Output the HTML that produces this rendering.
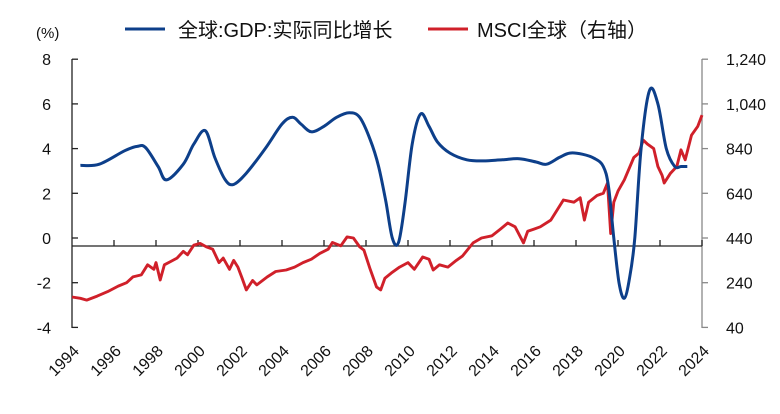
<!DOCTYPE html>
<html><head><meta charset="utf-8"><style>
body{margin:0;background:#fff;width:780px;height:409px;overflow:hidden}
svg text{font-family:"Liberation Sans","Noto Sans CJK SC",sans-serif;fill:#111}
</style></head><body>
<svg id="c" width="780" height="409" xmlns="http://www.w3.org/2000/svg"></svg>
<script>
const gdpYears=[1994.4,1995.3,1996.5,1997.1,1997.5,1998.1,1998.5,1999.3,1999.8,2000.35,2000.8,2001.3,2001.7,2002.3,2003.2,2004.0,2004.5,2004.9,2005.4,2006.0,2006.6,2007.2,2007.7,2008.2,2008.6,2008.95,2009.25,2009.55,2009.85,2010.2,2010.6,2011.0,2011.4,2012.0,2012.8,2013.6,2014.5,2015.3,2016.1,2016.6,2017.2,2017.7,2018.3,2018.9,2019.3,2019.55,2019.8,2020.05,2020.3,2020.55,2020.8,2021.1,2021.5,2021.9,2022.3,2022.7,2023.0,2023.3];
const gdpValues=[3.25,3.3,3.9,4.1,4.05,3.2,2.6,3.3,4.2,4.8,3.6,2.6,2.4,2.9,4.0,5.1,5.4,5.1,4.75,5.0,5.4,5.6,5.4,4.4,3.2,1.6,0.0,-0.2,1.5,4.2,5.55,5.0,4.3,3.8,3.5,3.45,3.5,3.55,3.4,3.3,3.6,3.8,3.75,3.55,3.2,2.3,0.0,-2.0,-2.7,-1.8,0.0,4.0,6.6,6.0,4.0,3.2,3.2,3.2];
const msciYears=[1994.0,1994.4,1994.7,1995.2,1995.7,1996.2,1996.6,1996.9,1997.3,1997.6,1997.9,1998.0,1998.2,1998.4,1998.7,1999.0,1999.3,1999.5,1999.8,2000.1,2000.4,2000.7,2001.0,2001.2,2001.5,2001.7,2001.9,2002.1,2002.3,2002.6,2002.8,2003.3,2003.7,2004.2,2004.6,2005.0,2005.4,2005.8,2006.2,2006.4,2006.8,2007.1,2007.4,2007.7,2007.9,2008.2,2008.5,2008.7,2008.9,2009.2,2009.6,2010.0,2010.3,2010.7,2011.0,2011.2,2011.5,2011.9,2012.3,2012.6,2013.1,2013.5,2014.0,2014.4,2014.75,2015.1,2015.5,2015.7,2016.0,2016.3,2016.8,2017.4,2017.9,2018.2,2018.4,2018.6,2019.0,2019.3,2019.5,2019.65,2019.8,2020.0,2020.3,2020.75,2021.0,2021.2,2021.4,2021.7,2021.9,2022.1,2022.2,2022.5,2022.8,2023.0,2023.2,2023.5,2023.8,2024.0];
const msciValues=[176,170,162,180,200,225,240,266,275,320,300,330,252,320,335,350,380,365,408,416,400,390,330,350,300,340,310,260,208,250,230,266,290,297,310,330,345,371,390,420,405,445,440,400,386,300,221,208,260,283,310,330,300,355,345,297,320,310,340,360,418,440,450,480,507,490,418,470,480,490,520,610,600,620,520,600,630,640,686,460,600,650,700,800,820,878,860,840,760,720,686,730,760,834,790,900,940,990];
const yearTicks=[1994,1996,1998,2000,2002,2004,2006,2008,2010,2012,2014,2016,2018,2020,2022,2024];
const leftTicks=[8,6,4,2,0,-2,-4];
const rightTicks=[1240,1040,840,640,440,240,40];

const svg=document.getElementById('c');const NS='http://www.w3.org/2000/svg';
const X=y=>72+(y-1994)*(630/30);
const YL=v=>238-v*22.35;
const YR=v=>238-(v-440)*(44.7/200);
function mk(t,a,p){const e=document.createElementNS(NS,t);for(const k in a)e.setAttribute(k,a[k]);(p||svg).appendChild(e);return e;}
let e=mk('line',{x1:72,y1:59,x2:72,y2:328,stroke:'#222','stroke-width':1.3});


e=mk('line',{x1:702,y1:59,x2:702,y2:328,stroke:'#888','stroke-width':1.3});


e=mk('line',{x1:72,y1:246,x2:702,y2:246,stroke:'#222','stroke-width':1.3});


leftTicks.forEach(v=>{const y=YL(v);
mk('line',{x1:72,y1:y,x2:78,y2:y,stroke:'#222','stroke-width':1.3});
const t=mk('text',{x:51,y:y+6,'text-anchor':'end','font-size':16});t.textContent=v;

});
rightTicks.forEach(v=>{const y=YR(v);
mk('line',{x1:702,y1:y,x2:708,y2:y,stroke:'#888','stroke-width':1.3});
const t=mk('text',{x:726,y:y+6,'font-size':16});t.textContent=v.toLocaleString('en-US');

});
yearTicks.forEach(yr=>{const x=X(yr);
if(yr>1994)mk('line',{x1:x,y1:240,x2:x,y2:246,stroke:'#222','stroke-width':1.3});
const t=mk('text',{x:x+8,y:352,'text-anchor':'end','font-size':16,transform:`rotate(-45 ${x+8} 352)`});t.textContent=yr;

});
let pts=msciYears.map((y,i)=>X(y).toFixed(1)+','+YR(msciValues[i]).toFixed(1)).join(' ');
e=mk('polyline',{points:pts,fill:'none',stroke:'#d0202a','stroke-width':2.9,'stroke-linejoin':'round'});


const P=gdpYears.map((y,i)=>[X(y),YL(gdpValues[i])]);
let d='M'+P[0][0]+','+P[0][1];
for(let i=0;i<P.length-1;i++){const p0=P[i-1]||P[i],p1=P[i],p2=P[i+1],p3=P[i+2]||p2;
const c1=[p1[0]+(p2[0]-p0[0])/6,p1[1]+(p2[1]-p0[1])/6],c2=[p2[0]-(p3[0]-p1[0])/6,p2[1]-(p3[1]-p1[1])/6];
d+=`C${c1[0].toFixed(1)},${c1[1].toFixed(1)} ${c2[0].toFixed(1)},${c2[1].toFixed(1)} ${p2[0].toFixed(1)},${p2[1].toFixed(1)}`;}
e=mk('path',{d:d,fill:'none',stroke:'#0d3f8a','stroke-width':3});


e=mk('text',{x:36,y:38,'font-size':15});e.textContent='(%)';


e=mk('line',{x1:125,y1:29,x2:165,y2:29,stroke:'#0d3f8a','stroke-width':3});


e=mk('text',{x:178,y:37,'font-size':20});e.textContent='全球:GDP:实际同比增长';


e=mk('line',{x1:428,y1:29,x2:468,y2:29,stroke:'#d0202a','stroke-width':3});


e=mk('text',{x:477,y:37,'font-size':20});e.textContent='MSCI全球（右轴）';


</script>
</body></html>
